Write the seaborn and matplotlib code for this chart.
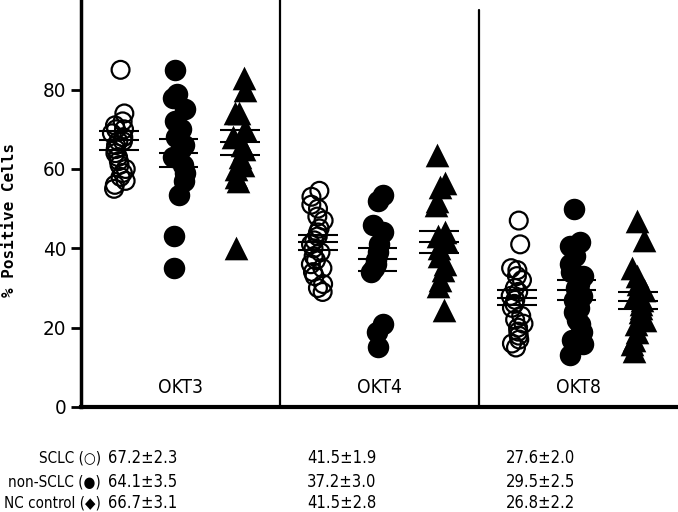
import numpy as np
import pandas as pd
import matplotlib
matplotlib.use('Agg')
import matplotlib.pyplot as plt
import matplotlib.transforms as mtransforms
from matplotlib import font_manager
import seaborn as sns

panels = ['OKT3', 'OKT4', 'OKT8']
groups = ['SCLC', 'non-SCLC', 'NC control']

# % positive cells, one list per group and antibody
sclc_okt3 = [85, 74, 72, 71, 70, 70, 69, 68, 67, 67, 66, 65, 64, 63, 62, 61, 60, 59, 58, 57, 56, 55]
nonsclc_okt3 = [85, 79, 78, 75, 72, 70, 68, 66, 65, 63, 61, 59, 57, 53.5, 43, 35]
nc_okt3 = [83, 80, 74, 74, 70, 68, 66, 65, 63, 61, 60, 58, 57, 40]

sclc_okt4 = [54.5, 53, 51, 50, 48, 47, 45, 44, 43, 42, 41, 40, 39, 38, 37, 36, 35, 34, 33, 31, 30, 29]
nonsclc_okt4 = [53.5, 52, 46, 44, 41, 39, 37, 36, 35, 34, 21, 19, 15]
nc_okt4 = [63.5, 56.5, 55.5, 52, 51, 44, 43, 42, 40, 38, 36, 34.5, 32, 30.5, 24.5]

sclc_okt8 = [47, 41, 35, 34.5, 33, 32, 30, 29, 28, 27, 26, 25, 23, 22, 21, 20, 19, 18, 17, 16, 15]
nonsclc_okt8 = [50, 41.5, 40.5, 38, 36, 34, 33, 31, 30, 29, 28, 27, 26, 25, 24, 22, 21, 19, 17, 16, 13]
nc_okt8 = [47, 42, 35, 33, 31, 29.5, 28, 27, 26, 25, 24, 22, 21, 19, 17, 16, 14]

# mean and SE per group (OKT3, OKT4, OKT8)
sclc_mean = [67.2, 41.5, 27.6]
sclc_se = [2.3, 1.9, 2.0]
nonsclc_mean = [64.1, 37.2, 29.5]
nonsclc_se = [3.5, 3.0, 2.5]
nc_mean = [66.7, 41.5, 26.8]
nc_se = [3.1, 2.8, 2.2]

sclc_text = ['67.2±2.3', '41.5±1.9', '27.6±2.0']
nonsclc_text = ['64.1±3.5', '37.2±3.0', '29.5±2.5']
nc_text = ['66.7±3.1', '41.5±2.8', '26.8±2.2']
row_labels = ['SCLC (○)', 'non-SCLC (●)', 'NC control (◆)']

values = {
    'SCLC': [sclc_okt3, sclc_okt4, sclc_okt8],
    'non-SCLC': [nonsclc_okt3, nonsclc_okt4, nonsclc_okt8],
    'NC control': [nc_okt3, nc_okt4, nc_okt8],
}
stats = {
    'SCLC': (sclc_mean, sclc_se),
    'non-SCLC': (nonsclc_mean, nonsclc_se),
    'NC control': (nc_mean, nc_se),
}

rows = []
for g in groups:
    for i, p in enumerate(panels):
        for v in values[g][i]:
            rows.append({'panel': p, 'group': g, 'value': v})
df = pd.DataFrame(rows)

offsets = {'SCLC': 0.19, 'non-SCLC': 0.49, 'NC control': 0.80}
df['pos'] = df['panel'].map({p: i for i, p in enumerate(panels)}) + df['group'].map(offsets)
rng = np.random.default_rng(7)
df['xj'] = df['pos'] + rng.uniform(-0.035, 0.035, len(df))

sns.set_style('ticks')

# pick a narrow face if one is installed
fonts = font_manager.fontManager.ttflist
names = {f.name for f in fonts}
condensed_dejavu = any(f.name == 'DejaVu Sans' and f.stretch in ('condensed', 600, 'semi-condensed') for f in fonts)
if 'Liberation Sans Narrow' in names:
    narrow = dict(family=['Liberation Sans Narrow', 'DejaVu Sans'])
    scale = 1.0
elif condensed_dejavu:
    narrow = dict(family=['DejaVu Sans'], stretch='condensed')
    scale = 0.95
else:
    narrow = dict(family=['Liberation Sans', 'DejaVu Sans'])
    scale = 0.9
plt.rcParams['font.family'] = narrow['family']
plt.rcParams['text.color'] = 'black'
plt.rcParams['axes.labelcolor'] = 'black'
plt.rcParams['ytick.color'] = 'black'
plt.rcParams['axes.edgecolor'] = 'black'

fig = plt.figure(figsize=(6.78, 5.12), dpi=100)
ax = fig.add_axes([81 / 678, 105 / 512, 597 / 678, 407 / 512])

styles = {
    'SCLC': dict(marker='o', s=165, color='black', facecolor='none', edgecolor='black', linewidth=1.6),
    'non-SCLC': dict(marker='o', s=240, color='black', edgecolor='black', linewidth=0),
    'NC control': dict(marker='^', s=290, color='black', edgecolor='black', linewidth=0),
}
for g in groups:
    sub = df[df['group'] == g]
    sns.scatterplot(data=sub, x='xj', y='value', ax=ax, legend=False, zorder=2, **styles[g])

# mean +/- SE bars
for g in groups:
    m, se = stats[g]
    for i in range(3):
        x0 = i + offsets[g]
        ax.hlines([m[i] - se[i], m[i], m[i] + se[i]], x0 - 0.1, x0 + 0.1,
                  color='black', lw=1.5, zorder=3)

ax.axvline(1, color='black', lw=1.6)
ax.axvline(2, ymax=0.975, color='black', lw=1.6)

for i, p in enumerate(panels):
    ax.text(i + 0.5, 5.0, p, ha='center', va='center', fontsize=14.5 * scale, **narrow)

ax.set_xlim(0, 3)
ax.set_ylim(0, 102.6)
ax.set_yticks([0, 20, 40, 60, 80])
ax.set_xticks([])
ax.set_xlabel('')
ax.set_ylabel('% Positive Cells', family='DejaVu Sans Mono', fontsize=11.5, fontweight='bold')
ax.yaxis.set_label_coords(-0.107, 0.46)
ax.tick_params(axis='y', length=7, width=2, labelsize=15.5 * scale, direction='out')
for lbl in ax.get_yticklabels():
    lbl.set_fontproperties(font_manager.FontProperties(size=15.5 * scale, **narrow))
sns.despine(ax=ax)
ax.spines['left'].set_linewidth(2.5)
ax.spines['bottom'].set_linewidth(3)

# summary table under the axes
trans = mtransforms.blended_transform_factory(ax.transData, fig.transFigure)
row_y = [1 - 458 / 512, 1 - 482 / 512, 1 - 503 / 512]
texts = [sclc_text, nonsclc_text, nc_text]
for r in range(3):
    fig.text(101 / 678, row_y[r], row_labels[r], ha='right', va='center',
             fontsize=11.5 * scale, **narrow)
    for i in range(3):
        ax.text(i + 0.31, row_y[r], texts[r][i], transform=trans, ha='center', va='center',
                fontsize=12.5 * scale, clip_on=False, **narrow)

fig.savefig('out.png', dpi=100)
